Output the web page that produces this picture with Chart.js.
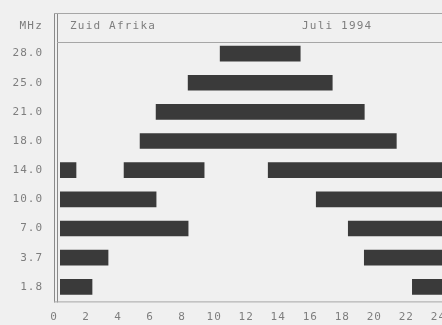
<!DOCTYPE html>
<html>
<head>
<meta charset="utf-8">
<script src="https://cdn.jsdelivr.net/npm/chart.js@4"></script>
<style>
html,body{margin:0;padding:0;background:#f0f0f0;overflow:hidden;}
#wrap{width:460px;height:325px;}
</style>
</head>
<body>
<div id="wrap"><canvas id="c" width="460" height="325"></canvas></div>
<script>
// Amateur bands (MHz), top to bottom
const bands = ['28.0', '25.0', '21.0', '18.0', '14.0', '10.0', '7.0', '3.7', '1.8'];
// Opening windows per band, in hours UTC [from, to]
const openingA = [[10, 15], [8, 17], [6, 19], [5, 21], [0, 1], [0, 6], [0, 8], [0, 3], [0, 2]];
const openingB = [null, null, null, null, [4, 9], [16, 24], [18, 24], [19, 24], [22, 24]];
const openingC = [null, null, null, null, [13, 24], null, null, null, null];
// Hour axis
const hourTicks = [0, 2, 4, 6, 8, 10, 12, 14, 16, 18, 20, 22, 24];
// Header texts
const unitLabel = 'MHz';
const pathLabel = 'Zuid Afrika';
const periodLabel = 'Juli 1994';

const FONT = 'DejaVu Sans Mono';
const INK = '#7e7e7e';
const RULE = '#8a8a8a';
const FAINT = '#a6a6a6';

// Paper background, frame and header box
const frame = {
  id: 'frame',
  beforeDraw(chart) {
    const ctx = chart.ctx;
    ctx.fillStyle = '#f0f0f0';
    ctx.fillRect(0, 0, chart.width, chart.height);
    ctx.letterSpacing = '1px';
  },
  afterDraw(chart) {
    const { ctx, chartArea: a } = chart;
    ctx.save();
    ctx.lineWidth = 1;
    // double left rule
    ctx.strokeStyle = RULE;
    ctx.beginPath();
    ctx.moveTo(54.5, 13); ctx.lineTo(54.5, a.bottom + 1);
    ctx.moveTo(57.5, 13); ctx.lineTo(57.5, a.bottom + 1);
    ctx.stroke();
    // header box top, header separator and time axis
    ctx.strokeStyle = FAINT;
    ctx.beginPath();
    ctx.moveTo(54, 13.5); ctx.lineTo(chart.width, 13.5);
    ctx.moveTo(57, 42.5); ctx.lineTo(chart.width, 42.5);
    ctx.moveTo(54, a.bottom + 0.5); ctx.lineTo(chart.width, a.bottom + 0.5);
    ctx.stroke();

    ctx.fillStyle = INK;
    ctx.font = '11px "' + FONT + '"';
    ctx.letterSpacing = '1.2px';
    ctx.textBaseline = 'middle';
    ctx.textAlign = 'right';
    ctx.fillText(unitLabel, 43, 26);
    ctx.textAlign = 'left';
    ctx.fillText(pathLabel, 70, 26);
    ctx.fillText(periodLabel, 302, 26);
    ctx.restore();
  }
};

const segment = (d) => ({
  data: d,
  backgroundColor: '#3a3a3a',
  borderWidth: 0,
  barThickness: 15,
  grouped: false
});

new Chart(document.getElementById('c'), {
  type: 'bar',
  data: {
    labels: bands,
    datasets: [segment(openingA), segment(openingB), segment(openingC)]
  },
  options: {
    indexAxis: 'y',
    responsive: false,
    animation: false,
    devicePixelRatio: 1,
    layout: { padding: { top: 39, right: 14, left: 0, bottom: 0 } },
    plugins: { legend: { display: false }, tooltip: { enabled: false } },
    scales: {
      x: {
        type: 'linear',
        min: 0,
        max: 24,
        grid: { display: false, drawTicks: false },
        border: { display: false },
        afterBuildTicks: (s) => { s.ticks = hourTicks.map((v) => ({ value: v })); },
        afterFit: (s) => { s.height = 19; },
        ticks: {
          color: INK,
          font: { family: FONT, size: 11 },
          padding: 9,
          labelOffset: -6,
          autoSkip: false,
          maxRotation: 0
        }
      },
      y: {
        grid: { display: false, drawTicks: false },
        border: { display: false },
        afterFit: (s) => { s.width = 60; },
        ticks: {
          color: INK,
          font: { family: FONT, size: 11 },
          padding: 17
        }
      }
    }
  },
  plugins: [frame]
});
</script>
</body>
</html>
